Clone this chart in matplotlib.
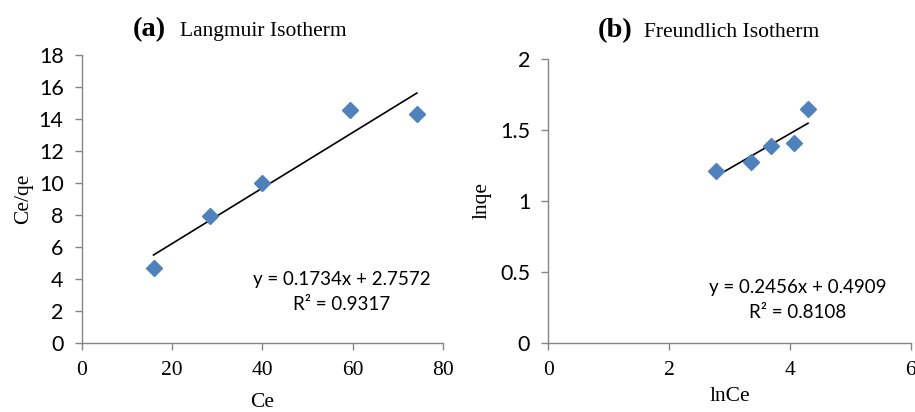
import numpy as np
import matplotlib
matplotlib.use("Agg")
import matplotlib.pyplot as plt

# Langmuir data (panel a)
ce = [15.9, 28.4, 40.0, 59.3, 74.2]
ce_qe = [4.7, 7.97, 10.03, 14.54, 14.29]
lang_slope, lang_icpt, lang_r2 = 0.1734, 2.7572, 0.9317

# Freundlich data (panel b)
ln_ce = [2.77, 3.35, 3.68, 4.07, 4.30]
ln_qe = [1.213, 1.272, 1.389, 1.406, 1.646]
freu_slope, freu_icpt, freu_r2 = 0.2456, 0.4909, 0.8108

SANS = ["Lato", "DejaVu Sans"]
SERIF = "Liberation Serif"
BLUE = "#4F81BD"
AXCOL = "#868686"

fig = plt.figure(figsize=(9.15, 4.12), dpi=100)


def style_axes(ax, xmax, xstep, ymax, ystep):
    for s in ["top", "right"]:
        ax.spines[s].set_visible(False)
    for s in ["left", "bottom"]:
        ax.spines[s].set_color(AXCOL)
        ax.spines[s].set_linewidth(1.0)
    ax.set_xlim(0, xmax)
    ax.set_ylim(0, ymax)
    ax.set_xticks(np.arange(0, xmax + xstep / 2, xstep))
    ax.set_yticks(np.arange(0, ymax + ystep / 2, ystep))
    ax.set_yticklabels([f"{v:g}" for v in ax.get_yticks()], family=SANS, fontsize=15.5)
    ax.set_xticklabels([f"{v:g}" for v in ax.get_xticks()], family=SERIF, fontsize=15.5)
    ax.tick_params(direction="out", length=5, width=1, color=AXCOL)
    ax.tick_params(axis="y", pad=8)
    ax.tick_params(axis="x", pad=8)
    for lbl in ax.get_xticklabels() + ax.get_yticklabels():
        lbl.set_clip_on(False)


def draw_panel(ax, x, y, slope, icpt, r2, eq_pos):
    ax.plot(x, y, linestyle="none", marker="D", markersize=8.5,
            color=BLUE, markeredgecolor=BLUE, zorder=3, clip_on=False)
    xs = np.array([min(x), max(x)])
    ax.plot(xs, slope * xs + icpt, color="black", linewidth=1.2, zorder=2)
    ax.text(eq_pos[0], eq_pos[1], f"y = {slope:.4f}x + {icpt:.4f}",
            transform=ax.transAxes, ha="center", va="center",
            family=SANS, fontsize=13.5)
    ax.text(eq_pos[0], eq_pos[2], f"R² = {r2:.4f}",
            transform=ax.transAxes, ha="center", va="center",
            family=SANS, fontsize=13.5)


# panel (a)
ax1 = fig.add_axes([0.0893, 0.1667, 0.3949, 0.6998])
draw_panel(ax1, ce, ce_qe, lang_slope, lang_icpt, lang_r2, (0.72, 0.223, 0.136))
style_axes(ax1, 80, 20, 18, 2)
ax1.set_xlabel("Ce", family=SERIF, fontsize=15.5, labelpad=9)
ax1.set_ylabel("Ce/qe", family=SERIF, fontsize=15.5, labelpad=4)

# panel (b)
ax2 = fig.add_axes([0.5992, 0.1682, 0.3961, 0.6886])
draw_panel(ax2, ln_ce, ln_qe, freu_slope, freu_icpt, freu_r2, (0.688, 0.196, 0.105))
style_axes(ax2, 6, 2, 2, 0.5)
ax2.set_xlabel("lnCe", family=SERIF, fontsize=15.5, labelpad=5)
ax2.set_ylabel("lnqe", family=SERIF, fontsize=15.5, labelpad=6)

# titles
fig.text(133 / 915, 1 - 36 / 412, "(a)", family=SERIF, fontweight="bold",
         fontsize=20.5, ha="left", va="baseline")
fig.text(180 / 915, 1 - 36 / 412, "Langmuir Isotherm", family=SERIF,
         fontsize=15.5, ha="left", va="baseline")
fig.text(598 / 915, 1 - 37 / 412, "(b)", family=SERIF, fontweight="bold",
         fontsize=20.5, ha="left", va="baseline")
fig.text(644 / 915, 1 - 37 / 412, "Freundlich Isotherm", family=SERIF,
         fontsize=15.5, ha="left", va="baseline")

fig.savefig("out.png", dpi=100, facecolor="white")
